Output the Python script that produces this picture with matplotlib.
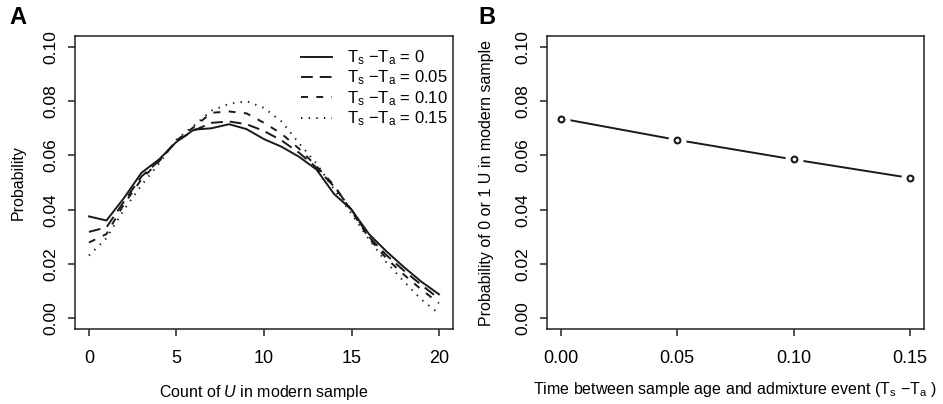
import numpy as np
import matplotlib
matplotlib.use("Agg")
import matplotlib.pyplot as plt

plt.rcParams['font.family'] = ['Liberation Sans', 'DejaVu Sans']
plt.rcParams['mathtext.fontset'] = 'custom'
plt.rcParams['mathtext.rm'] = 'Liberation Sans'
plt.rcParams['mathtext.it'] = 'Liberation Sans:italic'
plt.rcParams['lines.scale_dashes'] = False

# panel A: distribution of U counts for each Ts - Ta
conteo = np.arange(0, 21)
p_000 = [0.0375, 0.0360, 0.0443, 0.0536, 0.0585, 0.0650, 0.0695, 0.0700, 0.0715, 0.0697,
         0.0660, 0.0632, 0.0595, 0.0548, 0.0458, 0.0400, 0.0310, 0.0246, 0.0188, 0.0134, 0.0088]
p_005 = [0.0318, 0.0335, 0.0430, 0.0522, 0.0580, 0.0652, 0.0692, 0.0720, 0.0725, 0.0715,
         0.0690, 0.0655, 0.0610, 0.0555, 0.0485, 0.0400, 0.0300, 0.0232, 0.0175, 0.0122, 0.0072]
p_010 = [0.0279, 0.0310, 0.0420, 0.0512, 0.0578, 0.0655, 0.0705, 0.0757, 0.0762, 0.0755,
         0.0720, 0.0680, 0.0625, 0.0560, 0.0490, 0.0395, 0.0295, 0.0220, 0.0160, 0.0105, 0.0055]
p_015 = [0.0231, 0.0295, 0.0400, 0.0490, 0.0570, 0.0658, 0.0710, 0.0765, 0.0790, 0.0800,
         0.0775, 0.0725, 0.0645, 0.0570, 0.0475, 0.0385, 0.0290, 0.0205, 0.0135, 0.0068, 0.0017]
etiquetas = ["0", "0.05", "0.10", "0.15"]

# panel B: probability of 0 or 1 U
tiempos = [0.00, 0.05, 0.10, 0.15]
p_0o1 = [0.0736, 0.0657, 0.0585, 0.0517]

fig = plt.figure(figsize=(9.43, 4.04), dpi=100)
axA = fig.add_axes([0.0795, 0.1856, 0.4009, 0.7252])
axB = fig.add_axes([0.5800, 0.1856, 0.3998, 0.7252])

estilos = [
    dict(linestyle='-'),
    dict(linestyle=(0, (8.5, 5))),
    dict(linestyle=(0, (5, 6))),
    dict(linestyle=(0, (1, 4.5))),
]
series = [p_000, p_005, p_010, p_015]
for datos, est, et in zip(series, estilos, etiquetas):
    axA.plot(conteo, datos, color='#1a1a1a', lw=1.4, dash_capstyle='butt',
             label="T$_\\mathregular{s}$ \u2212T$_\\mathregular{a}$ = " + et, **est)

leg = axA.legend(loc='upper right', frameon=False, fontsize=12, handlelength=1.9,
                 handletextpad=0.9, labelspacing=0.1, borderaxespad=0.0, borderpad=0.3,
                 bbox_to_anchor=(1.0, 0.975))

axA.set_xlim(-0.8, 20.8)
axA.set_ylim(-0.004, 0.104)
axA.set_xticks([0, 5, 10, 15, 20])
axA.set_yticks([0, 0.02, 0.04, 0.06, 0.08, 0.10])
axA.set_yticklabels(["0.00", "0.02", "0.04", "0.06", "0.08", "0.10"])
axA.set_xlabel(r"Count of $\mathit{U}$ in modern sample", fontsize=11.5, va='center')
axA.xaxis.set_label_coords(0.5, -0.215)
axA.set_ylabel("Probability", fontsize=11.5, va='center')
axA.yaxis.set_label_coords(-0.151, 0.5)

# panel B: line with gaps around the points (R type = "b")
axB.plot(tiempos, p_0o1, color='#1a1a1a', lw=1.4, zorder=1)
axB.plot(tiempos, p_0o1, linestyle='none', marker='o', markersize=12,
         markerfacecolor='white', markeredgecolor='white', zorder=2)
axB.plot(tiempos, p_0o1, linestyle='none', marker='o', markersize=4.2,
         markerfacecolor='white', markeredgecolor='#1a1a1a', markeredgewidth=1.5, zorder=3)
axB.set_xlim(-0.006, 0.156)
axB.set_ylim(-0.004, 0.104)
axB.set_xticks(tiempos)
axB.set_xticklabels(["0.00", "0.05", "0.10", "0.15"])
axB.set_yticks([0, 0.02, 0.04, 0.06, 0.08, 0.10])
axB.set_yticklabels(["0.00", "0.02", "0.04", "0.06", "0.08", "0.10"])
axB.set_xlabel("Time between sample age and admixture event (T$_\\mathregular{s}$ \u2212T$_\\mathregular{a}$ )",
               fontsize=11.5, va='center')
axB.xaxis.set_label_coords(0.5, -0.208)
axB.set_ylabel("Probability of 0 or 1 U in modern sample", fontsize=11.5, va='center')
axB.yaxis.set_label_coords(-0.159, 0.5)

for ax in (axA, axB):
    for s in ax.spines.values():
        s.set_linewidth(1.1)
        s.set_color('#222222')
    ax.tick_params(axis='both', direction='out', length=5, width=1.1, color='#222222')
    ax.tick_params(axis='x', labelsize=13, pad=10)
    ax.tick_params(axis='y', labelsize=12.5, pad=7)
    for t in ax.get_yticklabels():
        t.set_rotation(90)
        t.set_va('center')

fig.text(0.010, 0.928, "A", fontsize=17, fontweight='bold', ha='left', va='bottom')
fig.text(0.507, 0.928, "B", fontsize=17, fontweight='bold', ha='left', va='bottom')

fig.savefig("out.png", dpi=100)
